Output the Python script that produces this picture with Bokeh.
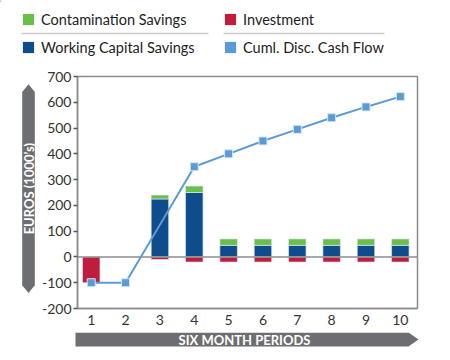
from math import pi
from bokeh.plotting import figure
from bokeh.layouts import column, row
from bokeh.models import (ColumnDataSource, Range1d, FixedTicker, Legend, LegendItem,
                          Span, Label, PrintfTickFormatter)
from bokeh.embed import file_html
from bokeh.resources import INLINE

# ---- data ----
periods = [1, 2, 3, 4, 5, 6, 7, 8, 9, 10]
working_capital = [0, 0, 225, 250, 45, 45, 45, 45, 45, 45]
contamination = [0, 0, 15, 25, 25, 25, 25, 25, 25, 25]
investment = [-100, 0, -10, -20, -20, -20, -20, -20, -20, -20]
cum_periods = [1, 2, 4, 5, 6, 7, 8, 9, 10]
cum_cash_flow = [-100, -100, 350, 400, 450, 495, 540, 582, 622]
y_ticks = [-200, -100, 0, 100, 200, 300, 400, 500, 600, 700]
series_names = ["Contamination Savings", "Investment", "Working Capital Savings", "Cuml. Disc. Cash Flow"]

GREEN = "#6abf4b"
RED = "#be1e3c"
BLUE = "#0f4c8c"
LIGHT = "#5b9bd5"
GREY = "#6d6e71"
FONT = "Lato"
W = 440


def blank(width, height, xr, yr):
    f = figure(width=width, height=height, output_backend="svg", toolbar_location=None,
               x_range=xr, y_range=yr, x_axis_location=None, y_axis_location=None,
               min_border=0)
    f.outline_line_color = None
    f.grid.visible = False
    f.background_fill_color = "white"
    f.border_fill_color = "white"
    return f


# ---------------- main chart ----------------
wc_src = ColumnDataSource(dict(
    x=[p for p, w in zip(periods, working_capital) if w],
    bottom=[0 for w in working_capital if w],
    top=[w for w in working_capital if w]))
ct_src = ColumnDataSource(dict(
    x=[p for p, c in zip(periods, contamination) if c],
    bottom=[w for w, c in zip(working_capital, contamination) if c],
    top=[w + c for w, c in zip(working_capital, contamination) if c]))
inv_src = ColumnDataSource(dict(
    x=[p for p, v in zip(periods, investment) if v],
    bottom=[v for v in investment if v],
    top=[0 for v in investment if v]))
cum_src = ColumnDataSource(dict(x=cum_periods, y=cum_cash_flow))

p = figure(width=402, height=270, output_backend="svg", toolbar_location=None,
           x_range=Range1d(0.6, 10.5), y_range=Range1d(-200, 700),
           min_border_left=38, min_border_right=23, min_border_top=14, min_border_bottom=24)
p.background_fill_color = "white"
p.border_fill_color = "white"
p.outline_line_color = "#8c8c8c"
p.outline_line_width = 1.5
p.xgrid.visible = False
p.ygrid.visible = False

bw = 0.51
edge = dict(line_color="#dbe7f3", line_width=1, line_alpha=0.7)
p.vbar(x="x", bottom="bottom", top="top", width=bw, source=wc_src, fill_color=BLUE, **edge)
p.vbar(x="x", bottom="bottom", top="top", width=bw, source=ct_src, fill_color=GREEN, **edge)
p.vbar(x="x", bottom="bottom", top="top", width=bw, source=inv_src, fill_color=RED, **edge)

p.add_layout(Span(location=0, dimension="width", line_color="#8c8c8c", line_width=1.5))

p.line(x="x", y="y", source=cum_src, line_color=LIGHT, line_width=2)
p.scatter(x="x", y="y", source=cum_src, marker="square", size=8,
          fill_color=LIGHT, line_color="#d6e6f4", line_width=1)

p.yaxis.ticker = FixedTicker(ticks=y_ticks)
p.yaxis.formatter = PrintfTickFormatter(format="%d")
p.yaxis.major_tick_out = 4
p.yaxis.major_tick_in = 0
p.yaxis.minor_tick_line_color = None
p.yaxis.major_label_standoff = 2
p.yaxis.axis_line_color = "#8c8c8c"
p.yaxis.axis_line_width = 1.5
p.yaxis.major_tick_line_color = "#555555"
p.yaxis.major_tick_line_width = 1.5

p.xaxis.ticker = FixedTicker(ticks=periods)
p.xaxis.major_tick_out = 0
p.xaxis.major_tick_in = 0
p.xaxis.minor_tick_line_color = None
p.xaxis.major_label_standoff = 6
p.xaxis.axis_line_color = "#8c8c8c"
p.xaxis.axis_line_width = 1.5

for ax in (p.xaxis, p.yaxis):
    ax.major_label_text_font = FONT
    ax.major_label_text_font_size = "14px"
    ax.major_label_text_color = "#333333"

# ---------------- legend strip (page pixels 0..62) ----------------
top = blank(W, 62, Range1d(0, W), Range1d(62, 0))
keys = []
for c in (GREEN, RED, BLUE, LIGHT):
    # key swatches only: one point placed outside the visible range
    keys.append(top.vbar(x=[-1000], top=[1], width=1, fill_color=c, line_color=None))
legend = Legend(items=[LegendItem(label=n, renderers=[r]) for n, r in zip(series_names, keys)],
                orientation="horizontal", ncols=2, location=(21, 6.5),
                padding=0, margin=0, border_line_color=None, background_fill_alpha=0,
                glyph_width=14, glyph_height=14, label_standoff=6, spacing=11, label_width=171,
                label_text_font=FONT, label_text_font_size="14.5px", label_text_color="#222222")
top.add_layout(legend, "center")
top.segment(x0=[21, 223], x1=[208, 384], y0=[33, 33], y1=[33, 33],
            line_color="#cccccc", line_width=1.5)

# ---------------- y-axis banner (page pixels 62..332) ----------------
left = blank(38, 270, Range1d(0, 38), Range1d(332, 62))
bx0, bx1 = 21.7, 34.3
bxc = (bx0 + bx1) / 2
left.patch(x=[bx0, bx0, bxc, bx1, bx1, bxc], y=[80, 305, 314, 305, 80, 71],
           fill_color=GREY, line_color=None)
left.add_layout(Label(x=bxc, y=192.5, text="EUROS (1000’s)", angle=pi / 2,
                      text_align="center", text_baseline="middle", text_color="white",
                      text_font=FONT, text_font_style="bold", text_font_size="13px"))

# ---------------- x-axis banner (page pixels 332..348) ----------------
bottom = blank(W, 16, Range1d(0, W), Range1d(348, 332))
bottom.patch(x=[75, 408, 418, 408, 75], y=[332, 332, 339, 346, 346],
             fill_color=GREY, line_color=None)
bottom.add_layout(Label(x=244, y=339, text="SIX MONTH PERIODS",
                        text_align="center", text_baseline="middle", text_color="white",
                        text_font=FONT, text_font_style="bold", text_font_size="13px"))

layout = column(top, row(left, p), bottom)
open("out.html", "w").write(file_html(layout, INLINE))
